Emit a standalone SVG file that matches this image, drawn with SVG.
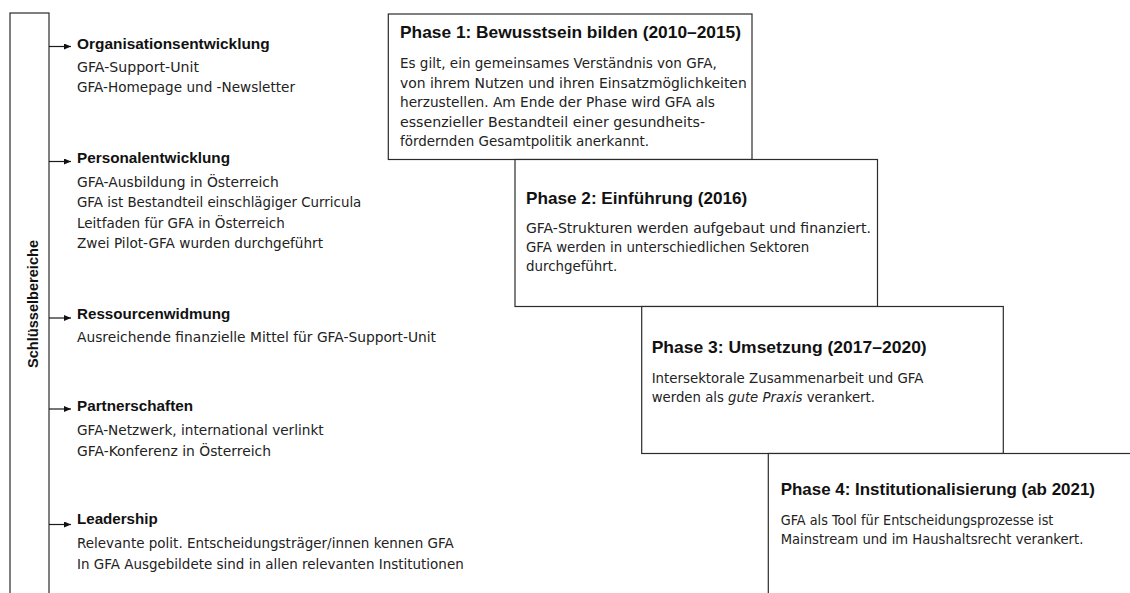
<svg xmlns="http://www.w3.org/2000/svg" width="1130" height="593" viewBox="0 0 1130 593">
<defs>
<marker id="ah" markerUnits="userSpaceOnUse" markerWidth="8" markerHeight="7" refX="7" refY="3" orient="auto">
<path d="M0,0 L7,3 L0,6 z" fill="#111"/>
</marker>
<style>
.frame{fill:#fff;stroke:#2b2b2b;stroke-width:1.2}
.con{stroke:#1a1a1a;stroke-width:1.2;fill:none}
.h{font-family:"Liberation Sans",Arial,sans-serif;font-weight:bold;font-size:15.5px;fill:#111}
.ph{font-family:"Liberation Sans",Arial,sans-serif;font-weight:bold;font-size:17px;fill:#111}
.b{font-family:"DejaVu Sans",Verdana,sans-serif;font-size:13.4px;fill:#222}
.v{font-family:"Liberation Sans",Arial,sans-serif;font-weight:bold;font-size:15.5px;fill:#111}
</style>
</defs>
<rect width="1130" height="593" fill="#fff"/>

<g id="schluesselbereiche">
<rect class="frame" x="10" y="13" width="39" height="600"/>
<text class="v" transform="translate(38,304) rotate(-90)" text-anchor="middle" textLength="128" lengthAdjust="spacingAndGlyphs">Schlüsselbereiche</text>
</g>

<g id="connectors">
<line class="con" x1="49" y1="46.5" x2="71" y2="46.5" marker-end="url(#ah)"/>
<line class="con" x1="49" y1="161.5" x2="71" y2="161.5" marker-end="url(#ah)"/>
<line class="con" x1="49" y1="318" x2="71" y2="318" marker-end="url(#ah)"/>
<line class="con" x1="49" y1="409" x2="71" y2="409" marker-end="url(#ah)"/>
<line class="con" x1="49" y1="524.5" x2="71" y2="524.5" marker-end="url(#ah)"/>
</g>

<g id="organisationsentwicklung">
<text class="h" x="77" y="48.5" textLength="192.7" lengthAdjust="spacingAndGlyphs">Organisationsentwicklung</text>
<text class="b" x="77" y="71.7" textLength="122" lengthAdjust="spacingAndGlyphs">GFA-Support-Unit</text>
<text class="b" x="77" y="91.9" textLength="218" lengthAdjust="spacingAndGlyphs">GFA-Homepage und -Newsletter</text>
</g>

<g id="personalentwicklung">
<text class="h" x="77" y="163.3" textLength="153" lengthAdjust="spacingAndGlyphs">Personalentwicklung</text>
<text class="b" x="77" y="186.7" textLength="201.7" lengthAdjust="spacingAndGlyphs">GFA-Ausbildung in Österreich</text>
<text class="b" x="77" y="207.2" textLength="284.3" lengthAdjust="spacingAndGlyphs">GFA ist Bestandteil einschlägiger Curricula</text>
<text class="b" x="77" y="227.7" textLength="207.7" lengthAdjust="spacingAndGlyphs">Leitfaden für GFA in Österreich</text>
<text class="b" x="77" y="248.2" textLength="246" lengthAdjust="spacingAndGlyphs">Zwei Pilot-GFA wurden durchgeführt</text>
</g>

<g id="ressourcenwidmung">
<text class="h" x="77" y="318.5" textLength="153.3" lengthAdjust="spacingAndGlyphs">Ressourcenwidmung</text>
<text class="b" x="77" y="341.7" textLength="359" lengthAdjust="spacingAndGlyphs">Ausreichende finanzielle Mittel für GFA-Support-Unit</text>
</g>

<g id="partnerschaften">
<text class="h" x="77" y="410.8" textLength="116" lengthAdjust="spacingAndGlyphs">Partnerschaften</text>
<text class="b" x="77" y="435" textLength="246.7" lengthAdjust="spacingAndGlyphs">GFA-Netzwerk, international verlinkt</text>
<text class="b" x="77" y="455.5" textLength="194" lengthAdjust="spacingAndGlyphs">GFA-Konferenz in Österreich</text>
</g>

<g id="leadership">
<text class="h" x="77" y="524" textLength="80.7" lengthAdjust="spacingAndGlyphs">Leadership</text>
<text class="b" x="77" y="548.3" textLength="376.7" lengthAdjust="spacingAndGlyphs">Relevante polit. Entscheidungsträger/innen kennen GFA</text>
<text class="b" x="77" y="569" textLength="386.7" lengthAdjust="spacingAndGlyphs">In GFA Ausgebildete sind in allen relevanten Institutionen</text>
</g>

<g id="phase1">
<rect class="frame" x="388.3" y="14" width="363.7" height="145.5"/>
<text class="ph" x="400" y="38" textLength="341" lengthAdjust="spacingAndGlyphs">Phase 1: Bewusstsein bilden (2010–2015)</text>
<text class="b" x="400" y="68" textLength="316.7" lengthAdjust="spacingAndGlyphs">Es gilt, ein gemeinsames Verständnis von GFA,</text>
<text class="b" x="400" y="87.6" textLength="346.7" lengthAdjust="spacingAndGlyphs">von ihrem Nutzen und ihren Einsatzmöglichkeiten</text>
<text class="b" x="400" y="107.2" textLength="315" lengthAdjust="spacingAndGlyphs">herzustellen. Am Ende der Phase wird GFA als</text>
<text class="b" x="400" y="126.8" textLength="305" lengthAdjust="spacingAndGlyphs">essenzieller Bestandteil einer gesundheits-</text>
<text class="b" x="400" y="146.4" textLength="249" lengthAdjust="spacingAndGlyphs">fördernden Gesamtpolitik anerkannt.</text>
</g>

<g id="phase2">
<rect class="frame" x="515" y="159.5" width="362.5" height="147"/>
<text class="ph" x="526" y="204.3" textLength="221.3" lengthAdjust="spacingAndGlyphs">Phase 2: Einführung (2016)</text>
<text class="b" x="526" y="233.3" textLength="345" lengthAdjust="spacingAndGlyphs">GFA-Strukturen werden aufgebaut und finanziert.</text>
<text class="b" x="526" y="252.3" textLength="283.3" lengthAdjust="spacingAndGlyphs">GFA werden in unterschiedlichen Sektoren</text>
<text class="b" x="526" y="271" textLength="91.3" lengthAdjust="spacingAndGlyphs">durchgeführt.</text>
</g>

<g id="phase3">
<rect class="frame" x="641.7" y="306.5" width="361.6" height="147"/>
<text class="ph" x="651.7" y="353.3" textLength="275" lengthAdjust="spacingAndGlyphs">Phase 3: Umsetzung (2017–2020)</text>
<text class="b" x="651.7" y="383.3" textLength="271.7" lengthAdjust="spacingAndGlyphs">Intersektorale Zusammenarbeit und GFA</text>
<text class="b" x="651.7" y="402.3" textLength="223.3" lengthAdjust="spacingAndGlyphs">werden als <tspan font-style="italic">gute Praxis</tspan> verankert.</text>
</g>

<g id="phase4">
<rect class="frame" x="768.3" y="453.5" width="400" height="200"/>
<text class="ph" x="780.7" y="495" textLength="314.3" lengthAdjust="spacingAndGlyphs">Phase 4: Institutionalisierung (ab 2021)</text>
<text class="b" x="780.7" y="525" textLength="272.7" lengthAdjust="spacingAndGlyphs">GFA als Tool für Entscheidungsprozesse ist</text>
<text class="b" x="780.7" y="543.5" textLength="302.7" lengthAdjust="spacingAndGlyphs">Mainstream und im Haushaltsrecht verankert.</text>
</g>
</svg>
